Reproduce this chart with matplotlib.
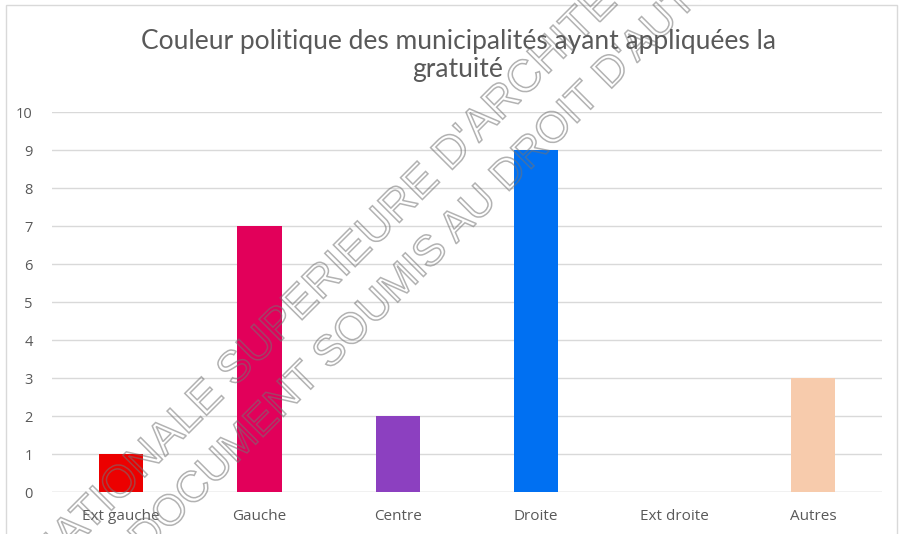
import matplotlib.pyplot as plt
from matplotlib.textpath import TextPath
from matplotlib.patches import PathPatch, Rectangle
from matplotlib.font_manager import FontProperties
from matplotlib.transforms import Affine2D, IdentityTransform
import numpy as np

categories = ["Ext gauche", "Gauche", "Centre", "Droite", "Ext droite", "Autres"]
values = [1, 7, 2, 9, 0, 3]
colors = ["#EC0000", "#E2005A", "#8C40C0", "#0070F2", "#FFFFFF", "#F7CBAC"]
title = "Couleur politique des municipalités ayant appliquées la\ngratuité"
watermark1 = "ECOLE NATIONALE SUPERIEURE D'ARCHITECTURE"
watermark2 = "DOCUMENT SOUMIS AU DROIT D'AUTEUR"

W, H = 902, 534
fig = plt.figure(figsize=(W / 100, H / 100), dpi=100)
fig.patch.set_facecolor("white")

# chart border
fig.add_artist(Rectangle((6 / W, -0.1), 891 / W, 1.1 - 5 / H, transform=fig.transFigure,
                         fill=False, edgecolor="#d9d9d9", lw=1))

ax = fig.add_axes([52 / W, 1 - 492 / H, 830 / W, 380 / H])
x = np.arange(len(categories))
ax.bar(x, values, width=0.32, color=colors, zorder=3)
ax.set_xlim(-0.5, len(categories) - 0.5)
ax.set_ylim(0, 10)
ax.set_yticks(range(0, 11))
ax.set_xticks(x)
ax.set_xticklabels(categories, fontfamily="Open Sans", fontsize=11, color="#595959")
for lab in ax.get_yticklabels():
    lab.set_fontfamily("Open Sans")
    lab.set_fontsize(10.5)
    lab.set_color("#595959")
ax.tick_params(length=0, pad=14)
ax.tick_params(axis="x", pad=12)
ax.grid(axis="y", color="#d9d9d9", lw=1, zorder=0)
for s in ax.spines.values():
    s.set_visible(False)
ax.axhline(0, color="#d9d9d9", lw=1, zorder=2)

fig.text(458 / W, 1 - 55 / H, title, ha="center", va="center", fontfamily="Lato",
         fontsize=19, color="#595959", linespacing=1.15)

# watermark (outlined text), centre given in pixels from top-left
fp = FontProperties(family="Liberation Sans")
for txt, cx, cy, size in [(watermark1, 319, 281, 45), (watermark2, 444, 235, 43)]:
    tp = TextPath((0, 0), txt, size=size, prop=fp)
    ext = tp.get_extents()
    tr = Affine2D().translate(-(ext.x0 + ext.x1) / 2, -(ext.y0 + ext.y1) / 2) \
        .rotate_deg(45).translate(cx, H - cy)
    patch = PathPatch(tr.transform_path(tp), transform=IdentityTransform(),
                      facecolor="none", edgecolor=(0.45, 0.45, 0.45, 0.55), lw=1.1)
    fig.add_artist(patch)

fig.savefig("out.png", dpi=100)
